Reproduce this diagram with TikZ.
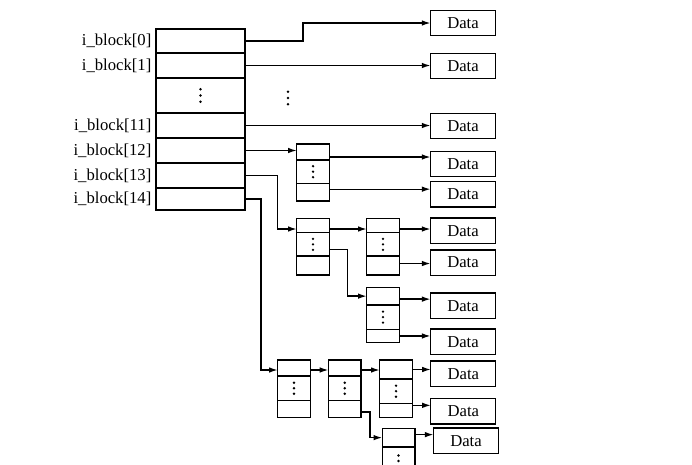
\documentclass[tikz,border=0pt]{standalone}
\usepackage{fontspec}
\setmainfont{Liberation Serif}
\usetikzlibrary{arrows.meta,positioning}
\begin{document}
\begin{tikzpicture}[x=0.75pt,y=-0.75pt,
  line width=1pt,
  cell/.style={draw,inner sep=0pt,outer sep=0pt,minimum width=66.75pt},
  bcell/.style={draw,inner sep=0pt,outer sep=0pt,minimum width=24.5pt},
  databox/.style={draw,inner sep=0pt,outer sep=0pt,minimum width=48.75pt,minimum height=19pt,font=\fontsize{12.5}{14}\selectfont},
  lab/.style={inner sep=0pt,font=\fontsize{12.5}{14}\selectfont},
  arr/.style={-{Latex[length=6.5pt,width=4.2pt]}},
  dotc/.style={fill=black}
]
\useasboundingbox (0,0) rectangle (692,464);
\clip (0,0) rectangle (692,464);
% main table
\node[cell,minimum height=18pt,anchor=north] (T0) at (200.5,29) {};
\node[cell,minimum height=18.75pt,anchor=north] (T1) at (T0.south) {};
\node[cell,minimum height=26.25pt,anchor=north] (Td) at (T1.south) {};
\node[cell,minimum height=18.75pt,anchor=north] (T11) at (Td.south) {};
\node[cell,minimum height=18.75pt,anchor=north] (T12) at (T11.south) {};
\node[cell,minimum height=18.75pt,anchor=north] (T13) at (T12.south) {};
\node[cell,minimum height=16.5pt,anchor=north] (T14) at (T13.south) {};
% labels
\node[lab,left=3pt of T0] (l0) {i\_block[0]};
\node[lab,left=3pt of T1] (l1) {i\_block[1]};
\node[lab,left=3pt of T11] (l11) {i\_block[11]};
\node[lab,left=3pt of T12] (l12) {i\_block[12]};
\node[lab,left=3pt of T13] (l13) {i\_block[13]};
\node[lab,left=3pt of T14] (l14) {i\_block[14]};
% data boxes
\node[databox] (data0) at (463,23) {Data};
\node[databox] (data1) at (463,66) {Data};
\node[databox] (data2) at (463,126) {Data};
\node[databox] (data3) at (463,164) {Data};
\node[databox] (data4) at (463,194.3) {Data};
\node[databox] (data5) at (463,230.7) {Data};
\node[databox] (data6) at (463,262.5) {Data};
\node[databox] (data7) at (463,305.8) {Data};
\node[databox] (data8) at (463,341.7) {Data};
\node[databox] (data9) at (463.3,373.7) {Data};
\node[databox] (data10) at (463.3,411.2) {Data};
\node[databox] (data11) at (466,440.8) {Data};
% block a
\node[bcell,minimum height=12pt,anchor=north] (a1) at (313,144) {};
\node[bcell,minimum height=17.5pt,anchor=north] (a2) at (a1.south) {};
\node[bcell,minimum height=13.25pt,anchor=north] (a3) at (a2.south) {};
% block b
\node[bcell,minimum height=10.8pt,anchor=north] (b1) at (313,218.3) {};
\node[bcell,minimum height=17.5pt,anchor=north] (b2) at (b1.south) {};
\node[bcell,minimum height=14.25pt,anchor=north] (b3) at (b2.south) {};
% block c
\node[bcell,minimum height=10.8pt,anchor=north] (c1) at (383,218.3) {};
\node[bcell,minimum height=17.5pt,anchor=north] (c2) at (c1.south) {};
\node[bcell,minimum height=14.25pt,anchor=north] (c3) at (c2.south) {};
% block d
\node[bcell,minimum height=13.25pt,anchor=north] (d1) at (383,287.3) {};
\node[bcell,minimum height=18.25pt,anchor=north] (d2) at (d1.south) {};
\node[bcell,minimum height=10pt,anchor=north] (d3) at (d2.south) {};
% block e
\node[bcell,minimum height=12pt,anchor=north] (e1) at (294,360) {};
\node[bcell,minimum height=18.4pt,anchor=north] (e2) at (e1.south) {};
\node[bcell,minimum height=12.75pt,anchor=north] (e3) at (e2.south) {};
% block f
\node[bcell,minimum height=12pt,anchor=north] (f1) at (344.7,360) {};
\node[bcell,minimum height=18.4pt,anchor=north] (f2) at (f1.south) {};
\node[bcell,minimum height=12.75pt,anchor=north] (f3) at (f2.south) {};
% block g
\node[bcell,minimum height=14.25pt,anchor=north] (g1) at (396,360) {};
\node[bcell,minimum height=18.25pt,anchor=north] (g2) at (g1.south) {};
\node[bcell,minimum height=10.5pt,anchor=north] (g3) at (g2.south) {};
% block h
\node[bcell,minimum height=14pt,anchor=north] (h1) at (398.5,428.3) {};
\node[bcell,minimum height=21pt,anchor=north] (h2) at (h1.south) {};
% dots
\coordinate (mid) at (288,98);
\foreach \n/\s in {Td/6.2,mid/6.2,a2/5.5,b2/5.5,c2/5.5,d2/5.5,e2/5.5,f2/5.5,g2/5.5,h2/5.5}{
  \fill[dotc] (\n.center) circle[radius=1pt];
  \fill[dotc] (\n.center) ++(0,-\s) circle[radius=1pt];
  \fill[dotc] (\n.center) ++(0,\s) circle[radius=1pt];
}
% connectors
\draw[arr] (T0.east) -- ++(58,0) |- (data0.west);
\draw[arr] (T1.east) -- (T1.east -| data1.west);
\draw[arr] (T11.east) -- (T11.east -| data2.west);
\draw[arr] (T12.east) -- (T12.east -| a1.west);
\path (a1.east) ++(0,5) coordinate (ya1);
\draw[arr] (ya1) -- (data3.west |- ya1);
\path (a3.east) ++(0,-3) coordinate (ya3);
\draw[arr] (ya3) -- (data4.west |- ya3);
\path (b1.west) ++(0,3.5) coordinate (yb1);
\draw[arr] (T13.east) -- ++(32.3,0) |- (yb1);
\draw[arr] (b1.east |- yb1) -- (c1.west |- yb1);
\draw[arr] (c1.east |- yb1) -- (data5.west |- yb1);
\path (c3.east) ++(0,-2) coordinate (yc3);
\draw[arr] (yc3) -- (data6.west |- yc3);
\path (b2.east) ++(0,5) coordinate (yb2);
\draw[arr] (yb2) -- ++(18,0) |- (d1.west);
\path (d1.east) ++(0,3) coordinate (yd1);
\draw[arr] (yd1) -- (data7.west |- yd1);
\draw[arr] (d3.east) -- (data8.west |- d3.east);
\path (e1.west) ++(0,2) coordinate (ye1);
\draw[arr] (T14.east) -- ++(16,0) |- (ye1);
\draw[arr] (e1.east |- ye1) -- (f1.west |- ye1);
\draw[arr] (f1.east |- ye1) -- (g1.west |- ye1);
\draw[arr] (g1.east) -- (data9.west |- g1.east);
\path (g3.east) ++(0,-5) coordinate (yg3);
\draw[arr] (yg3) -- (data10.west |- yg3);
\path (f3.east) ++(0,3) coordinate (yf3);
\draw[arr] (yf3) -- ++(9,0) |- (h1.west);
\path (h1.east) ++(0,-3) coordinate (yh1);
\draw[arr] (yh1) -- (data11.west |- yh1);
\end{tikzpicture}
\end{document}
